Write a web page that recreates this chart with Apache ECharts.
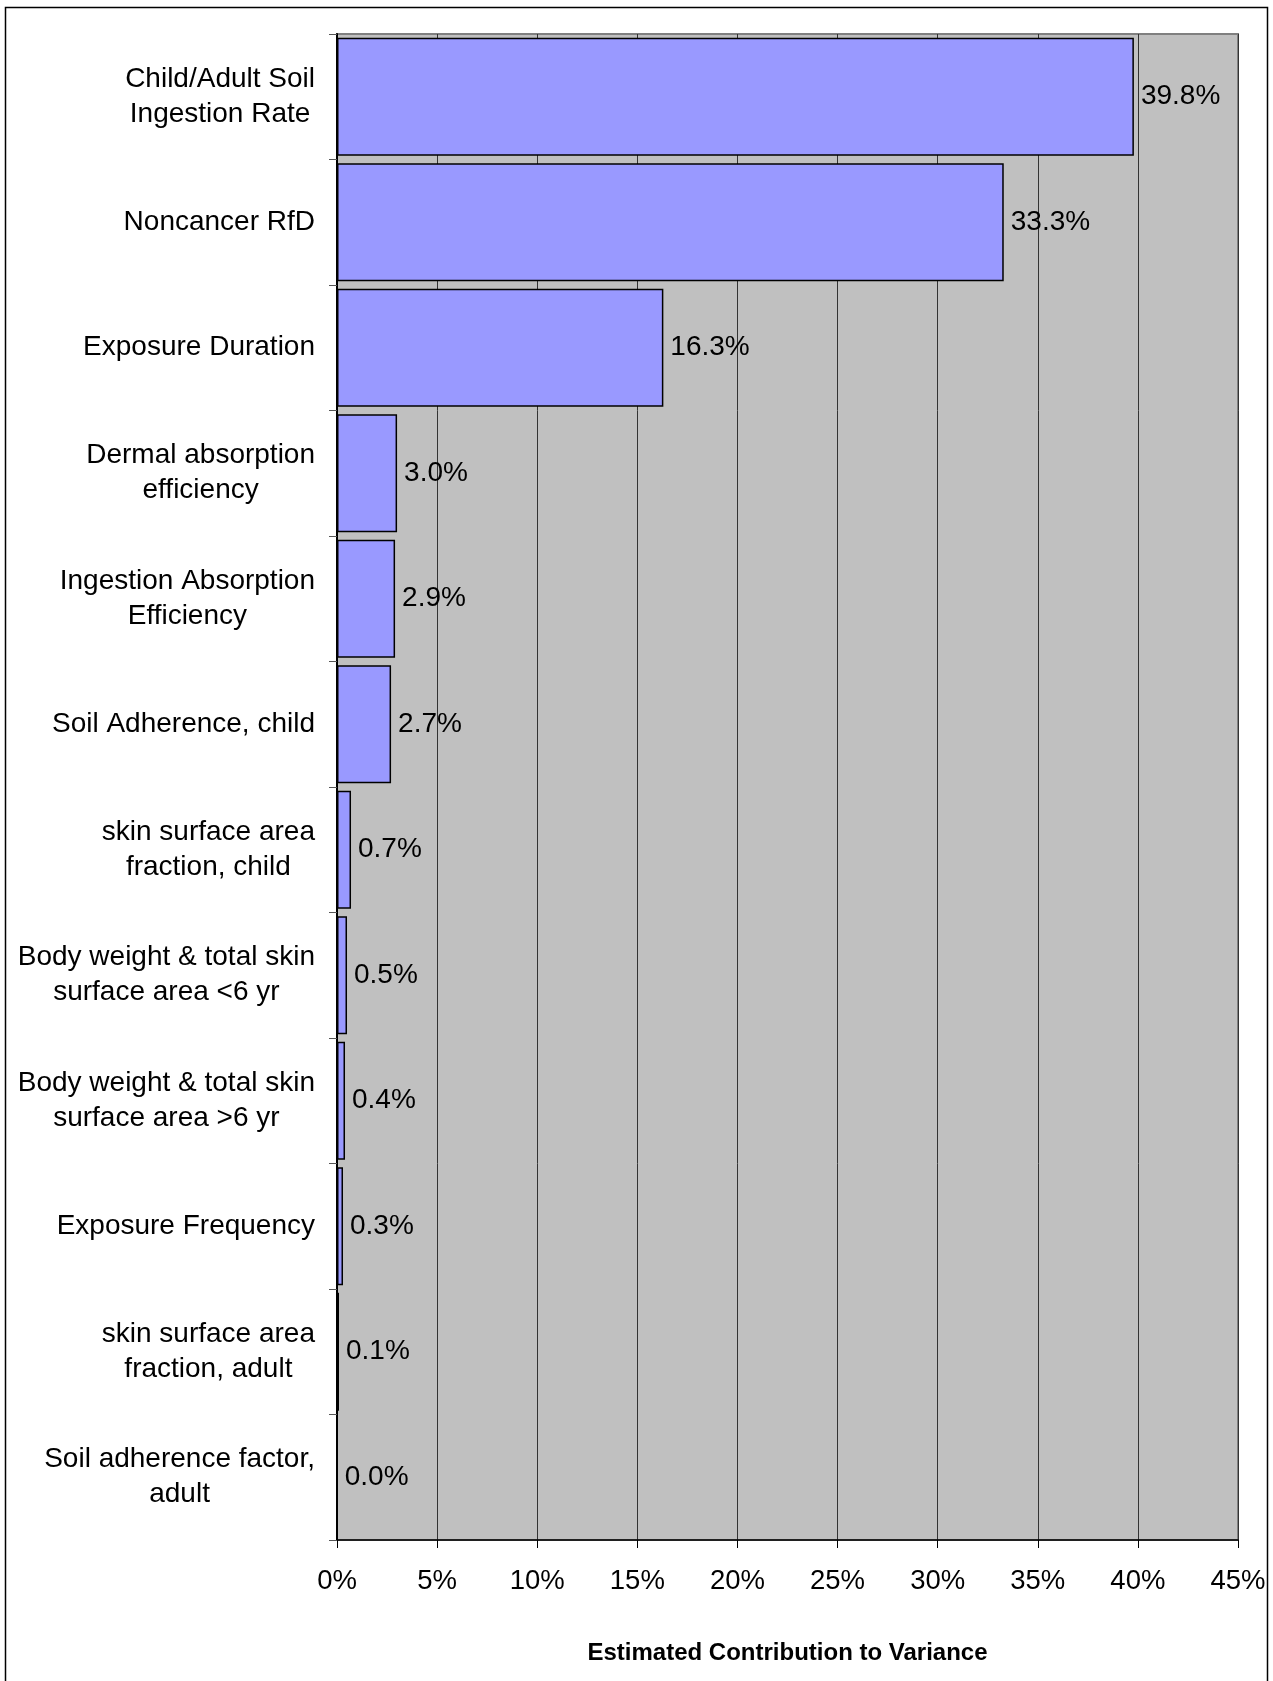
<!DOCTYPE html>
<html>
<head>
<meta charset="utf-8">
<title>Estimated Contribution to Variance</title>
<script src="https://cdn.jsdelivr.net/npm/echarts@6/dist/echarts.min.js"></script>
<style>
  html, body { margin: 0; padding: 0; background: #ffffff; }
  #chart { width: 1273px; height: 1681px; }
</style>
</head>
<body>
<div id="chart"></div>
<script>
// Input parameters, listed top to bottom
var categories = [
  'Child/Adult Soil\nIngestion Rate',
  'Noncancer RfD',
  'Exposure Duration',
  'Dermal absorption\nefficiency',
  'Ingestion Absorption\nEfficiency',
  'Soil Adherence, child',
  'skin surface area\nfraction, child',
  'Body weight & total skin\nsurface area <6 yr',
  'Body weight & total skin\nsurface area >6 yr',
  'Exposure Frequency',
  'skin surface area\nfraction, adult',
  'Soil adherence factor,\nadult'
];

// Share of the variance for each parameter (percent)
var contribution = [39.8, 33.3, 16.3, 3.0, 2.9, 2.7, 0.7, 0.5, 0.4, 0.3, 0.1, 0.0];

// Percent scale along the value axis
var axisMin = 0;
var axisMax = 45;
var axisStep = 5;

var FONT = '"Liberation Sans", Arial, sans-serif';

var chart = echarts.init(document.getElementById('chart'), null, { renderer: 'canvas' });

chart.setOption({
  backgroundColor: '#ffffff',
  animation: false,
  textStyle: { fontFamily: FONT },
  graphic: [{
    type: 'rect',
    silent: true,
    z: 100,
    shape: { x: 5.5, y: 7.5, width: 1262, height: 1700 },
    style: { fill: 'none', stroke: '#000000', lineWidth: 1.5 }
  }],
  grid: {
    left: 337,
    top: 34,
    right: 35,
    bottom: 141,
    show: true,
    backgroundColor: '#C0C0C0',
    borderColor: '#808080',
    borderWidth: 2
  },
  xAxis: {
    type: 'value',
    min: axisMin,
    max: axisMax,
    interval: axisStep,
    name: 'Estimated Contribution to Variance',
    nameLocation: 'middle',
    nameGap: 101,
    nameTextStyle: {
      fontFamily: FONT,
      fontSize: 24,
      fontWeight: 'bold',
      color: '#000000'
    },
    axisLine: { show: true, lineStyle: { color: '#000000', width: 1.5 } },
    axisTick: { show: true, inside: false, length: 8, lineStyle: { color: '#000000', width: 1 } },
    axisLabel: {
      margin: 27,
      fontFamily: FONT,
      fontSize: 27.5,
      color: '#000000',
      formatter: function (v) { return v + '%'; }
    },
    splitLine: { show: true, lineStyle: { color: '#333333', width: 1 } }
  },
  yAxis: {
    type: 'category',
    data: categories,
    inverse: true,
    axisLine: { show: true, lineStyle: { color: '#000000', width: 2 } },
    axisTick: { show: true, inside: false, length: 8, lineStyle: { color: '#555555', width: 1 } },
    axisLabel: {
      margin: 22,
      align: 'right',
      fontFamily: FONT,
      fontSize: 28,
      lineHeight: 35,
      color: '#000000',
      formatter: function (v) {
        return v.split('\n').map(function (line) { return '{c|' + line + '}'; }).join('\n');
      },
      rich: {
        c: { align: 'center', fontFamily: FONT, fontSize: 28, lineHeight: 35, color: '#000000' }
      }
    },
    splitLine: { show: false }
  },
  series: [{
    type: 'bar',
    data: contribution,
    barCategoryGap: '6%',
    itemStyle: {
      color: '#9999FF',
      borderColor: '#000000',
      borderWidth: 1.5
    },
    label: {
      show: true,
      position: 'right',
      distance: 7,
      fontFamily: FONT,
      fontSize: 28,
      color: '#000000',
      formatter: function (p) { return p.value.toFixed(1) + '%'; }
    }
  }]
});
</script>
</body>
</html>
